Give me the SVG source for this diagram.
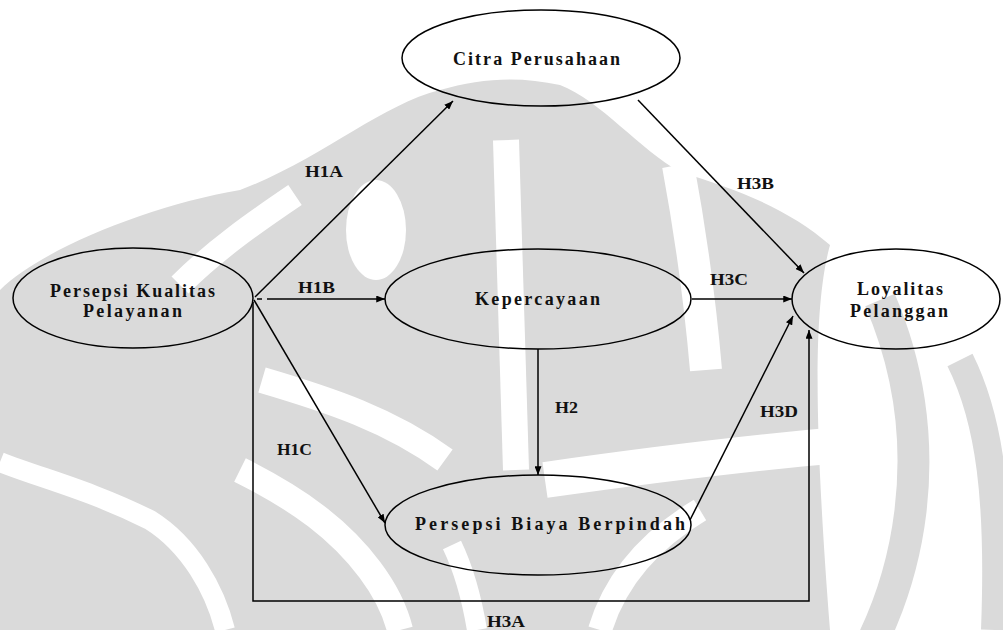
<svg xmlns="http://www.w3.org/2000/svg" width="1003" height="630" viewBox="0 0 1003 630">
<defs>
<marker id="arr" viewBox="0 0 10 8" refX="10" refY="4" markerWidth="9" markerHeight="7" markerUnits="userSpaceOnUse" orient="auto">
<path d="M0,0 L10,4 L0,8 z" fill="#000"/>
</marker>
</defs>
<style>
.node ellipse{fill:none;stroke:#000;stroke-width:1.5}
.node text{font-family:"Liberation Serif","Times New Roman",serif;font-weight:bold;font-size:18px;fill:#111}
.lbl{font-family:"Liberation Serif","Times New Roman",serif;font-weight:bold;font-size:16px;fill:#111}
.conn line,.conn polyline{stroke:#000;stroke-width:1.5;fill:none}
.arrow{marker-end:url(#arr)}
.wm{fill:#dadada}
.wb{fill:none;stroke:#dadada}
.ww{fill:none;stroke:#fff}
</style>
<rect width="1003" height="630" fill="#fff"/>
<g id="watermark">
<path class="wm" d="M0,290 C40,250 150,205 240,190 C320,160 380,105 440,90 C480,78 520,76 560,85 C600,100 640,150 680,172 C740,190 790,210 830,245 C815,300 812,400 830,630 L0,630 Z"/>
<path class="wb" stroke-width="32" d="M880,300 A410,410 0 0,1 830,710"/>
<path class="wb" stroke-width="28" d="M960,360 C990,420 1000,500 995,630"/>
<path class="ww" stroke-width="24" d="M295,195 C255,222 215,250 180,285"/>
<ellipse fill="#fff" cx="376" cy="230" rx="30" ry="50"/>
<path class="ww" stroke-width="26" d="M506,140 L516,470"/>
<path class="ww" stroke-width="32" d="M678,165 C690,230 700,300 706,370"/>
<path class="ww" stroke-width="26" d="M262,380 C330,400 390,420 445,460"/>
<path class="ww" stroke-width="26" d="M240,470 C300,500 340,530 370,570 C385,590 395,610 400,630"/>
<path class="ww" stroke-width="20" d="M477,630 C472,600 464,570 452,545"/>
<path class="ww" stroke-width="36" d="M840,445 C760,452 650,465 545,480"/>
<path class="ww" stroke-width="24" d="M600,630 C615,580 650,540 700,510"/>
<path class="ww" stroke-width="20" d="M0,462 C40,478 90,490 150,520 C190,545 215,590 225,630"/>
</g>
<g id="connectors" class="conn">
<line class="arrow" x1="255" y1="297" x2="453" y2="101"/>
<line x1="257" y1="299" x2="262" y2="299"/>
<line class="arrow" x1="267" y1="299" x2="385" y2="299"/>
<line class="arrow" x1="254" y1="300" x2="385" y2="523"/>
<line class="arrow" x1="538" y1="349" x2="538" y2="475"/>
<line class="arrow" x1="638" y1="100" x2="804" y2="273"/>
<line class="arrow" x1="692" y1="299" x2="792" y2="299"/>
<line class="arrow" x1="690" y1="520" x2="793" y2="316"/>
<polyline class="arrow" points="253,302 253,601 809,601 809,330"/>
<text class="lbl" x="305" y="177" textLength="38" lengthAdjust="spacingAndGlyphs">H1A</text>
<text class="lbl" x="298" y="293" textLength="37" lengthAdjust="spacingAndGlyphs">H1B</text>
<text class="lbl" x="277" y="455" textLength="35" lengthAdjust="spacingAndGlyphs">H1C</text>
<text class="lbl" x="555" y="413" textLength="23" lengthAdjust="spacingAndGlyphs">H2</text>
<text class="lbl" x="737" y="189" textLength="37" lengthAdjust="spacingAndGlyphs">H3B</text>
<text class="lbl" x="710" y="285" textLength="38" lengthAdjust="spacingAndGlyphs">H3C</text>
<text class="lbl" x="760" y="417" textLength="38" lengthAdjust="spacingAndGlyphs">H3D</text>
<text class="lbl" x="487" y="627" textLength="38" lengthAdjust="spacingAndGlyphs">H3A</text>
</g>
<g id="citra" class="node">
<ellipse cx="541" cy="58" rx="139" ry="48"/>
<text x="453" y="65" textLength="167" lengthAdjust="spacing">Citra Perusahaan</text>
</g>
<g id="pkp" class="node">
<ellipse cx="133" cy="298" rx="120" ry="50"/>
<text x="50" y="297" textLength="165" lengthAdjust="spacing">Persepsi Kualitas</text>
<text x="83" y="317" textLength="99" lengthAdjust="spacing">Pelayanan</text>
</g>
<g id="kepercayaan" class="node">
<ellipse cx="538" cy="299" rx="153" ry="50"/>
<text x="475" y="305" textLength="125" lengthAdjust="spacing">Kepercayaan</text>
</g>
<g id="loyalitas" class="node">
<ellipse cx="896" cy="299" rx="104" ry="50"/>
<text x="857" y="295" textLength="86" lengthAdjust="spacing">Loyalitas</text>
<text x="850" y="317" textLength="98" lengthAdjust="spacing">Pelanggan</text>
</g>
<g id="biaya" class="node">
<ellipse cx="538" cy="525" rx="153" ry="50"/>
<text x="415" y="530" textLength="270" lengthAdjust="spacing">Persepsi Biaya Berpindah</text>
</g>
</svg>
